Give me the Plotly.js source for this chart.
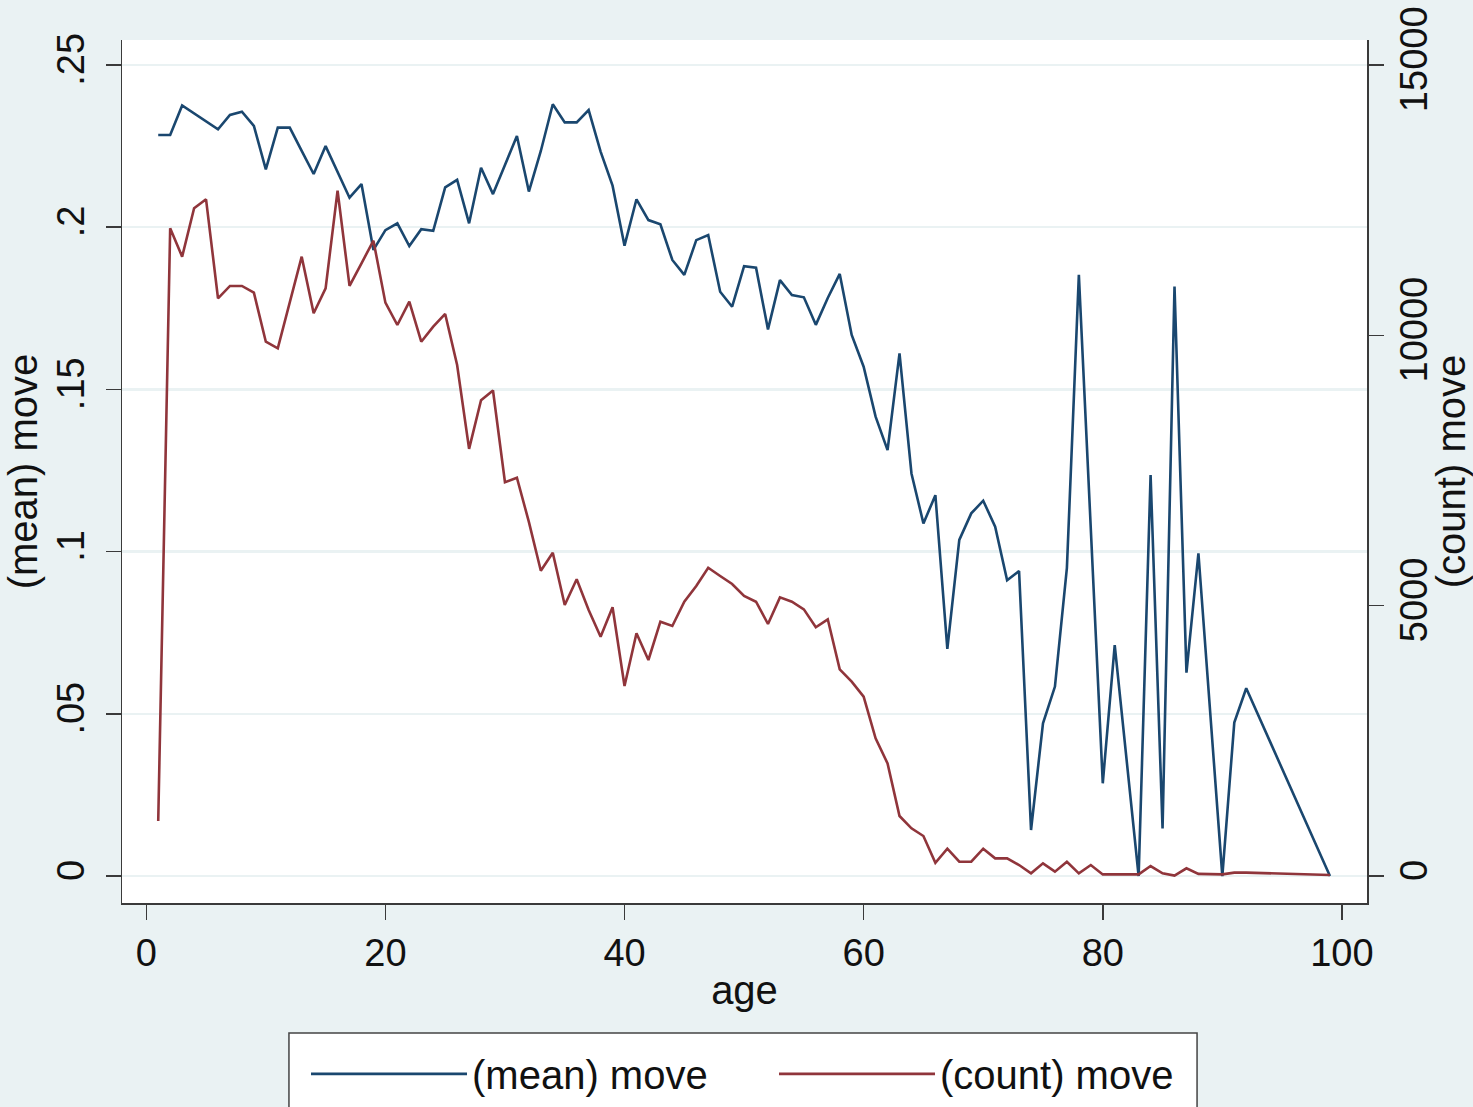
<!DOCTYPE html>
<html>
<head>
<meta charset="utf-8">
<script src="https://cdn.plot.ly/plotly-3.0.1.min.js"></script>
<style>html,body{margin:0;padding:0;background:rgb(234,242,243);}#chart{width:1473px;height:1107px;}</style>
</head>
<body>
<div id="chart"></div>
<script>
const age = [1,2,3,4,5,6,7,8,9,10,11,12,13,14,15,16,17,18,19,20,
  21,22,23,24,25,26,27,28,29,30,31,32,33,34,35,36,37,38,39,40,
  41,42,43,44,45,46,47,48,49,50,51,52,53,54,55,56,57,58,59,60,
  61,62,63,64,65,66,67,68,69,70,71,72,73,74,75,76,77,78,79,80,
  81,82,83,84,85,86,87,88,89,90,91,92,99];
const meanMove = [0.2284,0.2284,0.2375,0.2350,0.2326,0.2302,0.2346,0.2356,0.2312,0.2178,
  0.2307,0.2307,0.2235,0.2164,0.2250,0.2168,0.2091,0.2133,0.1930,0.1991,
  0.2012,0.1942,0.1994,0.1989,0.2123,0.2146,0.2012,0.2183,0.2102,0.2192,
  0.2281,0.2110,0.2235,0.2379,0.2323,0.2323,0.2361,0.2233,0.2128,0.1943,
  0.2086,0.2022,0.2009,0.1899,0.1853,0.1960,0.1976,0.1801,0.1755,0.1880,
  0.1875,0.1685,0.1837,0.1791,0.1784,0.1699,0.1782,0.1856,0.1668,0.1570,
  0.1416,0.1313,0.1611,0.1241,0.1087,0.1174,0.0700,0.1036,0.1118,0.1157,
  0.1077,0.0912,0.0940,0.0142,0.0471,0.0584,0.0950,0.1853,0.1050,0.0286,
  0.0712,0.0360,0.0000,0.1236,0.0147,0.1817,0.0627,0.0995,0.0500,0.0000,
  0.0473,0.0579,0.0000];
const countMove = [1017,11980,11455,12350,12516,10685,10913,10913,10789,9882,
  9760,10600,11455,10408,10870,12676,10913,11332,11751,10604,
  10191,10622,9882,10160,10395,9450,7900,8800,8980,7282,
  7367,6550,5647,5980,5012,5488,4920,4426,4970,3514,
  4489,3995,4704,4624,5073,5364,5702,5549,5401,5179,
  5073,4661,5154,5073,4932,4600,4748,3823,3594,3316,
  2547,2084,1110,882,740,246,505,264,264,505,
  327,327,203,49,234,80,264,49,203,30,
  30,30,30,185,49,8,142,40,30,30,
  62,62,20];

const xTicks = [0,20,40,60,80,100];
const yLeftTicks = [0,0.05,0.1,0.15,0.2,0.25];
const yLeftLabels = ['0','.05','.1','.15','.2','.25'];
const yRightTicks = [0,5000,10000,15000];
const yRightLabels = ['0','5000','10000','15000'];

const FONT = 'Liberation Sans, Arial, sans-serif';
const INK = '#111111';
const AXIS = '#3a3a3a';
const BG = 'rgb(234,242,243)';

const traces = [
  {x: age, y: meanMove, type: 'scatter', mode: 'lines', name: '(mean) move',
   line: {color: 'rgb(26,71,111)', width: 2.6}, yaxis: 'y', legend: 'legend'},
  {x: age, y: countMove, type: 'scatter', mode: 'lines', name: '(count) move',
   line: {color: 'rgb(144,53,59)', width: 2.6}, yaxis: 'y2', legend: 'legend2'}
];

const legendCommon = {
  orientation: 'h', yanchor: 'middle', y: -0.198, xanchor: 'left',
  bgcolor: 'rgba(255,255,255,0)', borderwidth: 0,
  font: {family: FONT, size: 40, color: INK}, itemwidth: 156
};

const layout = {
  width: 1473, height: 1107,
  paper_bgcolor: BG, plot_bgcolor: '#ffffff',
  margin: {l: 122, r: 106, t: 40, b: 204, pad: 0, autoexpand: false},
  font: {family: FONT, size: 38, color: INK},
  showlegend: true,
  legend: Object.assign({}, legendCommon, {x: 0.1478}),
  legend2: Object.assign({}, legendCommon, {x: 0.5237}),
  shapes: [{
    type: 'rect', xref: 'paper', yref: 'paper',
    x0: 0.1341, x1: 0.8635, y0: -0.1506, y1: -0.26,
    fillcolor: '#ffffff', line: {color: '#444444', width: 1.5}, layer: 'below'
  }],
  xaxis: {
    range: [-2.03, 102.1], tickvals: xTicks, ticktext: xTicks.map(String),
    showgrid: false, zeroline: false, showline: true, linecolor: AXIS, linewidth: 1.5,
    ticks: 'outside', ticklen: 15, tickwidth: 1.5, tickcolor: AXIS,
    ticklabelstandoff: 1,
    tickfont: {family: FONT, size: 38, color: INK},
    title: {text: 'age', font: {family: FONT, size: 40, color: INK}, standoff: 3}
  },
  yaxis: {
    range: [-0.0083, 0.2577], tickvals: yLeftTicks, ticktext: yLeftLabels,
    tickangle: -90, showgrid: true, gridcolor: BG, gridwidth: 2.5,
    zeroline: false, showline: true, linecolor: AXIS, linewidth: 1.5,
    ticks: 'outside', ticklen: 15, tickwidth: 1.5, tickcolor: AXIS,
    ticklabelstandoff: 6,
    tickfont: {family: FONT, size: 38, color: INK},
    title: {text: '(mean) move', font: {family: FONT, size: 40, color: INK}, standoff: 0}
  },
  yaxis2: {
    overlaying: 'y', side: 'right',
    range: [-499, 15462], tickvals: yRightTicks, ticktext: yRightLabels,
    tickangle: -90, showgrid: false,
    zeroline: false, showline: true, linecolor: AXIS, linewidth: 1.5,
    ticks: 'outside', ticklen: 15, tickwidth: 1.5, tickcolor: AXIS,
    ticklabelstandoff: -2,
    tickfont: {family: FONT, size: 38, color: INK},
    title: {text: '(count) move', font: {family: FONT, size: 40, color: INK}, standoff: 0}
  }
};

Plotly.newPlot('chart', traces, layout, {displayModeBar: false, staticPlot: true});
</script>
</body>
</html>
